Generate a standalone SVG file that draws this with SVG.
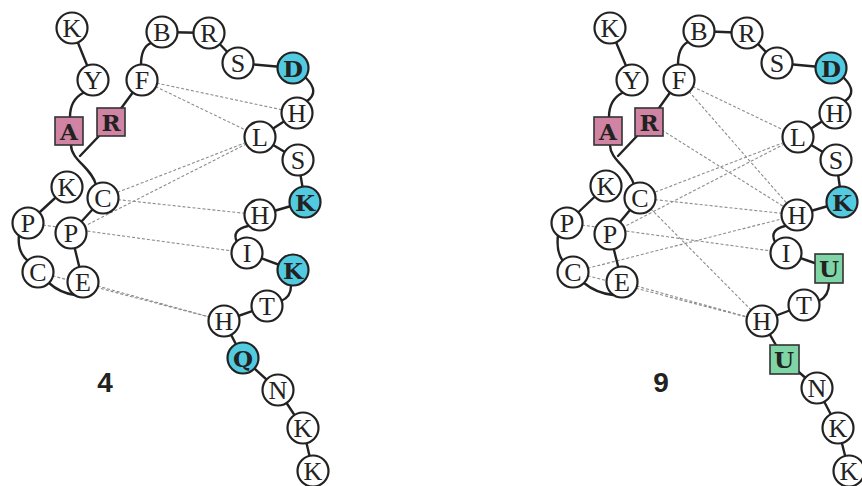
<svg xmlns="http://www.w3.org/2000/svg" width="862" height="486" viewBox="0 0 862 486">
  <style>
    .bk { fill: none; stroke: #222; stroke-width: 2.4; stroke-linecap: round; }
    .dt { fill: none; stroke: #8c8c8c; stroke-width: 1.1; stroke-dasharray: 3 2; }
    .n { fill: #fff; stroke: #222; stroke-width: 2.2; }
    .cy { fill: #52cbe0; stroke: #222; stroke-width: 2.2; }
    .pk { fill: #d083a3; stroke: #333; stroke-width: 1.6; }
    .gr { fill: #7fd5a5; stroke: #333; stroke-width: 1.6; }
    .t { font-family: "Liberation Serif", "Times New Roman", serif; font-size: 26px; text-anchor: middle; fill: #222; }
    .tb { font-family: "DejaVu Serif", "Liberation Serif", serif; font-size: 23px; font-weight: bold; }
    .num { font-family: "Liberation Sans", Arial, sans-serif; font-size: 28px; font-weight: bold; text-anchor: middle; fill: #222; }
  </style>

  <!-- ===================== Structure 4 ===================== -->
  <g id="links-4">
    <!-- contacts -->
    <line class="dt" x1="142" y1="80" x2="297" y2="113"/>
    <line class="dt" x1="142" y1="80" x2="260" y2="137"/>
    <line class="dt" x1="260" y1="137" x2="103" y2="198"/>
    <line class="dt" x1="260" y1="137" x2="71" y2="233"/>
    <line class="dt" x1="103" y1="198" x2="260" y2="215"/>
    <line class="dt" x1="28" y1="223" x2="247" y2="253"/>
    <line class="dt" x1="38" y1="272" x2="224" y2="321"/>
    <line class="dt" x1="83" y1="282" x2="224" y2="321"/>
    <!-- chain -->
    <line class="bk" x1="72" y1="28" x2="93" y2="80"/>
    <path class="bk" d="M83,93 Q70,100 70,117"/>
    <path class="bk" d="M71,145 C71,160 92,168 96,185"/>
    <line class="bk" x1="99" y1="136" x2="80" y2="156"/>
    <line class="bk" x1="111" y1="122" x2="142" y2="80"/>
    <path class="bk" d="M141,65 Q141,47 151,43"/>
    <line class="bk" x1="162" y1="32" x2="209" y2="33"/>
    <line class="bk" x1="209" y1="33" x2="238" y2="63"/>
    <line class="bk" x1="238" y1="63" x2="293" y2="68"/>
    <path class="bk" d="M306,78 Q320,92 307,101"/>
    <line class="bk" x1="297" y1="113" x2="260" y2="137"/>
    <line class="bk" x1="260" y1="137" x2="298" y2="160"/>
    <line class="bk" x1="298" y1="160" x2="305" y2="202"/>
    <line class="bk" x1="305" y1="202" x2="260" y2="215"/>
    <path class="bk" d="M248,226 Q231,230 237,242"/>
    <line class="bk" x1="247" y1="253" x2="293" y2="270"/>
    <path class="bk" d="M291,286 Q291,297 281,301"/>
    <line class="bk" x1="267" y1="306" x2="224" y2="321"/>
    <line class="bk" x1="224" y1="321" x2="243" y2="358"/>
    <line class="bk" x1="243" y1="358" x2="278" y2="390"/>
    <line class="bk" x1="278" y1="390" x2="303" y2="428"/>
    <line class="bk" x1="303" y1="428" x2="313" y2="471"/>
    <line class="bk" x1="67" y1="187" x2="28" y2="223"/>
    <line class="bk" x1="103" y1="198" x2="71" y2="233"/>
    <path class="bk" d="M19,235 Q17,252 28,261"/>
    <line class="bk" x1="71" y1="233" x2="83" y2="282"/>
    <path class="bk" d="M49,283 Q60,293 75,295"/>
  </g>

  <g id="s4-K1"><circle class="n" cx="72" cy="28" r="15.5"/><text class="t" x="72" y="37">K</text></g>
  <g id="s4-Y"><circle class="n" cx="93" cy="80" r="15.5"/><text class="t" x="93" y="89">Y</text></g>
  <g id="s4-A"><rect class="pk" x="55" y="117" width="28" height="28"/><text class="t tb" x="69" y="139.5">A</text></g>
  <g id="s4-R1"><rect class="pk" x="97" y="108" width="28" height="28"/><text class="t tb" x="111" y="130.5">R</text></g>
  <g id="s4-F"><circle class="n" cx="142" cy="80" r="15.5"/><text class="t" x="142" y="89">F</text></g>
  <g id="s4-B"><circle class="n" cx="162" cy="32" r="15.5"/><text class="t" x="162" y="41">B</text></g>
  <g id="s4-R2"><circle class="n" cx="209" cy="33" r="15.5"/><text class="t" x="209" y="42">R</text></g>
  <g id="s4-S1"><circle class="n" cx="238" cy="63" r="15.5"/><text class="t" x="238" y="72">S</text></g>
  <g id="s4-D"><circle class="cy" cx="293" cy="68" r="15.5"/><text class="t tb" x="293" y="76.5">D</text></g>
  <g id="s4-H1"><circle class="n" cx="297" cy="113" r="15.5"/><text class="t" x="297" y="122">H</text></g>
  <g id="s4-L"><circle class="n" cx="260" cy="137" r="15.5"/><text class="t" x="260" y="146">L</text></g>
  <g id="s4-S2"><circle class="n" cx="298" cy="160" r="15.5"/><text class="t" x="298" y="169">S</text></g>
  <g id="s4-K2"><circle class="cy" cx="305" cy="202" r="15.5"/><text class="t tb" x="305" y="210.5">K</text></g>
  <g id="s4-H2"><circle class="n" cx="260" cy="215" r="15.5"/><text class="t" x="260" y="224">H</text></g>
  <g id="s4-I"><circle class="n" cx="247" cy="253" r="15.5"/><text class="t" x="247" y="262">I</text></g>
  <g id="s4-K3"><circle class="cy" cx="293" cy="270" r="15.5"/><text class="t tb" x="293" y="278.5">K</text></g>
  <g id="s4-T"><circle class="n" cx="267" cy="306" r="15.5"/><text class="t" x="267" y="315">T</text></g>
  <g id="s4-H3"><circle class="n" cx="224" cy="321" r="15.5"/><text class="t" x="224" y="330">H</text></g>
  <g id="s4-Q"><circle class="cy" cx="243" cy="358" r="15.5"/><text class="t tb" x="243" y="366.5">Q</text></g>
  <g id="s4-N"><circle class="n" cx="278" cy="390" r="15.5"/><text class="t" x="278" y="399">N</text></g>
  <g id="s4-K4"><circle class="n" cx="303" cy="428" r="15.5"/><text class="t" x="303" y="437">K</text></g>
  <g id="s4-K5"><circle class="n" cx="313" cy="471" r="15.5"/><text class="t" x="313" y="480">K</text></g>
  <g id="s4-K6"><circle class="n" cx="67" cy="187" r="15.5"/><text class="t" x="67" y="196">K</text></g>
  <g id="s4-C1"><circle class="n" cx="103" cy="198" r="15.5"/><text class="t" x="103" y="207">C</text></g>
  <g id="s4-P1"><circle class="n" cx="28" cy="223" r="15.5"/><text class="t" x="28" y="232">P</text></g>
  <g id="s4-P2"><circle class="n" cx="71" cy="233" r="15.5"/><text class="t" x="71" y="242">P</text></g>
  <g id="s4-C2"><circle class="n" cx="38" cy="272" r="15.5"/><text class="t" x="38" y="281">C</text></g>
  <g id="s4-E"><circle class="n" cx="83" cy="282" r="15.5"/><text class="t" x="83" y="291">E</text></g>
  <text class="num" x="105" y="392">4</text>

  <!-- ===================== Structure 9 ===================== -->
  <g id="links-9">
    <!-- contacts -->
    <line class="dt" x1="679" y1="80" x2="798" y2="137"/>
    <line class="dt" x1="679" y1="80" x2="797" y2="215"/>
    <line class="dt" x1="649" y1="122" x2="797" y2="215"/>
    <line class="dt" x1="798" y1="137" x2="640" y2="198"/>
    <line class="dt" x1="798" y1="137" x2="610" y2="234"/>
    <line class="dt" x1="640" y1="198" x2="797" y2="215"/>
    <line class="dt" x1="640" y1="198" x2="762" y2="321"/>
    <line class="dt" x1="567" y1="223" x2="786" y2="253"/>
    <line class="dt" x1="573" y1="272" x2="797" y2="215"/>
    <line class="dt" x1="573" y1="272" x2="762" y2="321"/>
    <line class="dt" x1="622" y1="282" x2="762" y2="321"/>
    <!-- chain -->
    <line class="bk" x1="610" y1="28" x2="632" y2="80"/>
    <path class="bk" d="M622,93 Q609,100 609,117"/>
    <path class="bk" d="M610,145 C610,160 630,168 634,185"/>
    <line class="bk" x1="637" y1="136" x2="618" y2="156"/>
    <line class="bk" x1="649" y1="122" x2="679" y2="80"/>
    <path class="bk" d="M678,65 Q678,47 688,42"/>
    <line class="bk" x1="699" y1="31" x2="747" y2="33"/>
    <line class="bk" x1="747" y1="33" x2="777" y2="63"/>
    <line class="bk" x1="777" y1="63" x2="831" y2="68"/>
    <path class="bk" d="M844,78 Q858,92 845,101"/>
    <line class="bk" x1="835" y1="113" x2="798" y2="137"/>
    <line class="bk" x1="798" y1="137" x2="836" y2="160"/>
    <line class="bk" x1="836" y1="160" x2="842" y2="202"/>
    <line class="bk" x1="842" y1="202" x2="797" y2="215"/>
    <path class="bk" d="M785,226 Q769,230 775,242"/>
    <line class="bk" x1="786" y1="253" x2="829" y2="268"/>
    <path class="bk" d="M829,283 Q829,296 819,301"/>
    <line class="bk" x1="804" y1="305" x2="762" y2="321"/>
    <line class="bk" x1="762" y1="321" x2="784" y2="359"/>
    <line class="bk" x1="784" y1="359" x2="817" y2="388"/>
    <line class="bk" x1="817" y1="388" x2="838" y2="428"/>
    <line class="bk" x1="838" y1="428" x2="849" y2="471"/>
    <line class="bk" x1="606" y1="186" x2="567" y2="223"/>
    <line class="bk" x1="640" y1="198" x2="610" y2="234"/>
    <path class="bk" d="M558,235 Q556,252 563,261"/>
    <line class="bk" x1="610" y1="234" x2="622" y2="282"/>
    <path class="bk" d="M584,283 Q596,293 613,295"/>
  </g>

  <g id="s9-K1"><circle class="n" cx="610" cy="28" r="15.5"/><text class="t" x="610" y="37">K</text></g>
  <g id="s9-Y"><circle class="n" cx="632" cy="80" r="15.5"/><text class="t" x="632" y="89">Y</text></g>
  <g id="s9-A"><rect class="pk" x="594" y="117" width="28" height="28"/><text class="t tb" x="608" y="139.5">A</text></g>
  <g id="s9-R1"><rect class="pk" x="635" y="108" width="28" height="28"/><text class="t tb" x="649" y="130.5">R</text></g>
  <g id="s9-F"><circle class="n" cx="679" cy="80" r="15.5"/><text class="t" x="679" y="89">F</text></g>
  <g id="s9-B"><circle class="n" cx="699" cy="31" r="15.5"/><text class="t" x="699" y="40">B</text></g>
  <g id="s9-R2"><circle class="n" cx="747" cy="33" r="15.5"/><text class="t" x="747" y="42">R</text></g>
  <g id="s9-S1"><circle class="n" cx="777" cy="63" r="15.5"/><text class="t" x="777" y="72">S</text></g>
  <g id="s9-D"><circle class="cy" cx="831" cy="68" r="15.5"/><text class="t tb" x="831" y="76.5">D</text></g>
  <g id="s9-H1"><circle class="n" cx="835" cy="113" r="15.5"/><text class="t" x="835" y="122">H</text></g>
  <g id="s9-L"><circle class="n" cx="798" cy="137" r="15.5"/><text class="t" x="798" y="146">L</text></g>
  <g id="s9-S2"><circle class="n" cx="836" cy="160" r="15.5"/><text class="t" x="836" y="169">S</text></g>
  <g id="s9-K2"><circle class="cy" cx="842" cy="202" r="15.5"/><text class="t tb" x="842" y="210.5">K</text></g>
  <g id="s9-H2"><circle class="n" cx="797" cy="215" r="15.5"/><text class="t" x="797" y="224">H</text></g>
  <g id="s9-I"><circle class="n" cx="786" cy="253" r="15.5"/><text class="t" x="786" y="262">I</text></g>
  <g id="s9-U1"><rect class="gr" x="815" y="254" width="28" height="29"/><text class="t tb" x="829" y="276.5">U</text></g>
  <g id="s9-T"><circle class="n" cx="804" cy="305" r="15.5"/><text class="t" x="804" y="314">T</text></g>
  <g id="s9-H3"><circle class="n" cx="762" cy="321" r="15.5"/><text class="t" x="762" y="330">H</text></g>
  <g id="s9-U2"><rect class="gr" x="770" y="345" width="29" height="29"/><text class="t tb" x="784" y="367.5">U</text></g>
  <g id="s9-N"><circle class="n" cx="817" cy="388" r="15.5"/><text class="t" x="817" y="397">N</text></g>
  <g id="s9-K4"><circle class="n" cx="838" cy="428" r="15.5"/><text class="t" x="838" y="437">K</text></g>
  <g id="s9-K5"><circle class="n" cx="849" cy="471" r="15.5"/><text class="t" x="849" y="480">K</text></g>
  <g id="s9-K6"><circle class="n" cx="606" cy="186" r="15.5"/><text class="t" x="606" y="195">K</text></g>
  <g id="s9-C1"><circle class="n" cx="640" cy="198" r="15.5"/><text class="t" x="640" y="207">C</text></g>
  <g id="s9-P1"><circle class="n" cx="567" cy="223" r="15.5"/><text class="t" x="567" y="232">P</text></g>
  <g id="s9-P2"><circle class="n" cx="610" cy="234" r="15.5"/><text class="t" x="610" y="243">P</text></g>
  <g id="s9-C2"><circle class="n" cx="573" cy="272" r="15.5"/><text class="t" x="573" y="281">C</text></g>
  <g id="s9-E"><circle class="n" cx="622" cy="282" r="15.5"/><text class="t" x="622" y="291">E</text></g>
  <text class="num" x="661" y="392">9</text>
</svg>
